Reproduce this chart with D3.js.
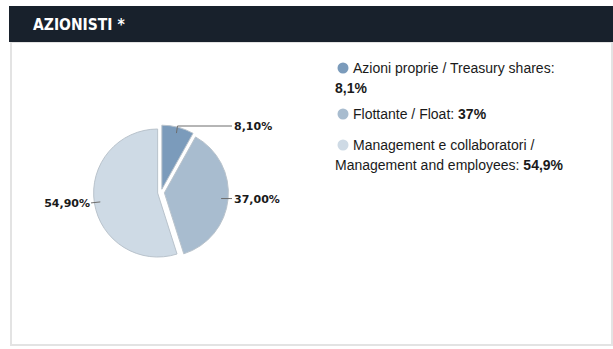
<!DOCTYPE html>
<html>
<head>
<meta charset="utf-8">
<script src="https://cdn.jsdelivr.net/npm/d3@7"></script>
<style>
  html, body { margin: 0; padding: 0; background: #ffffff; }
  svg { display: block; }
</style>
</head>
<body>
<svg id="chart" width="613" height="349"></svg>
<script>
// Shareholder breakdown
const categories = ["Azioni proprie / Treasury shares", "Flottante / Float", "Management e collaboratori / Management and employees"];
const values = [8.1, 37, 54.9];
const sliceLabels = ["8,10%", "37,00%", "54,90%"];
const legendValues = ["8,1%", "37%", "54,9%"];
const colors = ["#7b9bbb", "#a8bccf", "#cedae5"];

const svg = d3.select("#chart");

// Panel frame
svg.append("rect")
  .attr("x", 11).attr("y", 42).attr("width", 601).attr("height", 303)
  .attr("fill", "#ffffff").attr("stroke", "#e3e3e3").attr("stroke-width", 2);

// Title bar
svg.append("rect")
  .attr("x", 9).attr("y", 6).attr("width", 604).attr("height", 36)
  .attr("fill", "#18212c");
svg.append("text")
  .attr("x", 33).attr("y", 30)
  .attr("fill", "#ffffff")
  .attr("font-family", "'DejaVu Sans Condensed', 'DejaVu Sans', sans-serif")
  .attr("font-weight", "bold")
  .attr("font-stretch", "condensed")
  .attr("font-size", 15.5)
  .text("AZIONISTI *");

// Pie
const cx = 161, cy = 192.5, r = 64, explode = 3.4;
const pie = d3.pie().sort(null).value(d => d);
const arcs = pie(values);
const arc = d3.arc().innerRadius(0).outerRadius(r);

const g = svg.append("g").attr("transform", `translate(${cx},${cy})`);

function offset(d, k) {
  const a = (d.startAngle + d.endAngle) / 2;
  return [Math.sin(a) * k, -Math.cos(a) * k];
}

g.selectAll("path.slice")
  .data(arcs)
  .join("path")
  .attr("class", "slice")
  .attr("transform", d => { const o = offset(d, explode); return `translate(${o[0]},${o[1]})`; })
  .attr("d", arc)
  .attr("fill", (d, i) => colors[i])
  .attr("stroke", "#b9c3cc")
  .attr("stroke-width", 1);

// Leader lines and value labels
const labelFont = "'DejaVu Sans', sans-serif";
const leaderColor = "#6d6d6d";

function pointAt(d, rad) {
  const a = (d.startAngle + d.endAngle) / 2;
  const o = offset(d, explode);
  return [o[0] + Math.sin(a) * rad, o[1] - Math.cos(a) * rad];
}

// 8,10% : bent leader going up then right
{
  const d = arcs[0];
  const p0 = pointAt(d, 58);
  const p1 = [p0[0] + 1, -66.5];
  const p2 = [71, -66.5];
  g.append("polyline")
    .attr("points", [p0, p1, p2].map(p => p.join(",")).join(" "))
    .attr("fill", "none").attr("stroke", leaderColor).attr("stroke-width", 1);
  g.append("text").attr("x", 73).attr("y", -62.5)
    .attr("font-family", labelFont).attr("font-weight", "bold").attr("font-size", 11)
    .attr("fill", "#1a1a1a").text(sliceLabels[0]);
}
// 37,00% : short horizontal leader
{
  const d = arcs[1];
  const p0 = pointAt(d, 57);
  const p1 = [71, p0[1]];
  g.append("line")
    .attr("x1", p0[0]).attr("y1", p0[1]).attr("x2", p1[0]).attr("y2", p1[1])
    .attr("stroke", leaderColor).attr("stroke-width", 1);
  g.append("text").attr("x", 73).attr("y", p0[1] + 4)
    .attr("font-family", labelFont).attr("font-weight", "bold").attr("font-size", 11)
    .attr("fill", "#1a1a1a").text(sliceLabels[1]);
}
// 54,90% : short leader to the left
{
  const d = arcs[2];
  const p0 = pointAt(d, 58);
  const p1 = [-70, p0[1] + 1];
  g.append("line")
    .attr("x1", p0[0]).attr("y1", p0[1]).attr("x2", p1[0]).attr("y2", p1[1])
    .attr("stroke", leaderColor).attr("stroke-width", 1);
  g.append("text").attr("x", -71).attr("y", p1[1] + 4)
    .attr("text-anchor", "end")
    .attr("font-family", labelFont).attr("font-weight", "bold").attr("font-size", 11)
    .attr("fill", "#1a1a1a").text(sliceLabels[2]);
}

// Legend
const legendFont = "'Liberation Sans', Arial, sans-serif";
const legend = svg.append("g").attr("font-family", legendFont).attr("font-size", 14).attr("fill", "#1a1a1a");

function legendItem(i, cyDot, lines) {
  legend.append("circle").attr("cx", 343).attr("cy", cyDot).attr("r", 5.5)
    .attr("fill", colors[i]);
  lines.forEach(ln => {
    const t = legend.append("text").attr("x", ln.x).attr("y", ln.y);
    ln.parts.forEach(p => {
      t.append("tspan").attr("font-weight", p.bold ? "bold" : "normal").text(p.text);
    });
  });
}

legendItem(0, 68, [
  { x: 353, y: 73, parts: [{ text: "Azioni proprie / Treasury shares:" }] },
  { x: 335, y: 93, parts: [{ text: legendValues[0], bold: true }] }
]);
legendItem(1, 114, [
  { x: 353, y: 119, parts: [{ text: "Flottante / Float: " }, { text: legendValues[1], bold: true }] }
]);
legendItem(2, 145, [
  { x: 353, y: 150, parts: [{ text: "Management e collaboratori /" }] },
  { x: 335, y: 170, parts: [{ text: "Management and employees: " }, { text: legendValues[2], bold: true }] }
]);
</script>
</body>
</html>
